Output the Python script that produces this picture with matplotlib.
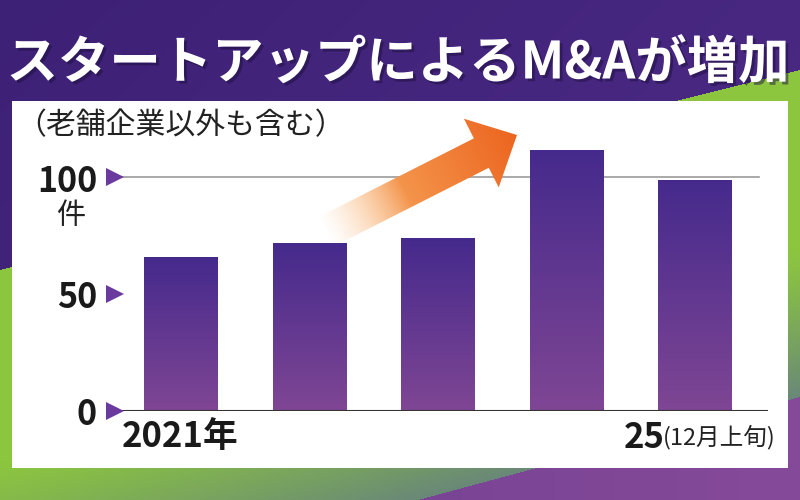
import numpy as np
import matplotlib
matplotlib.use('Agg')
import matplotlib.pyplot as plt
from matplotlib.patches import Polygon, Rectangle
from matplotlib.colors import to_rgb
import matplotlib.patheffects as pe
from matplotlib.transforms import blended_transform_factory

plt.rcParams['font.family'] = ['Noto Sans CJK JP', 'DejaVu Sans']

# ---- data ----
title = 'スタートアップによるM&Aが増加'
subtitle = '（老舗企業以外も含む）'
years = ['2021', '2022', '2023', '2024', '2025']
counts = [66, 72, 74, 112, 99]
ytick_values = [0, 50, 100]
ytick_labels = ['0', '50', '100']
unit_label = '件'
first_label = '2021年'
last_label_main = '25'
last_label_note = '(12月上旬)'

W, H = 800, 500
fig = plt.figure(figsize=(8, 5), dpi=100)


def lerp(c1, c2, t):
    c1 = np.array(to_rgb(c1)); c2 = np.array(to_rgb(c2))
    t = np.clip(t, 0, 1)[..., None]
    return c1 * (1 - t) + c2 * t


# ---- background (pixel coordinates) ----
bg = fig.add_axes([0, 0, 1, 1], zorder=0)
yy, xx = np.mgrid[0:H, 0:W] + 0.5
l1 = yy - (270 + (70 - 270) * xx / 800)
l2 = yy - (500 + (397 - 500) * (xx - 418) / 382)
purple_top = lerp('#3d2176', '#4f2c88', xx / 800 * 0.6 + yy / 500 * 0.4)
grey_t = 1 - np.clip(-l2 / 150, 0, 1)
green = lerp('#8cc63f', '#698878', grey_t ** 1.2)
purple_bot = lerp('#6c3d8d', '#864a9a', xx / 800)
img = np.where((l1 < 0)[..., None], purple_top,
               np.where((l2 < 0)[..., None], green, purple_bot))
bg.imshow(img, extent=(0, W, H, 0), interpolation='bilinear')
bg.add_patch(Rectangle((12, 100.5), 776, 367.5, facecolor='white', edgecolor='none'))
bg.set_aspect('auto')
bg.set_xlim(0, W); bg.set_ylim(H, 0)
bg.axis('off')

# ---- main chart ----
ax_left, ax_right = 122, 768
y0_px, ppu = 410.7, 2.332
ymax = 115
ax = fig.add_axes([ax_left / W, (H - y0_px) / H, (ax_right - ax_left) / W,
                   ymax * ppu / H], zorder=2)
ax.set_facecolor('none')
x = np.arange(len(years))
bw = 0.568
ax.set_xlim(-0.455, 4.568)
ax.set_ylim(0, ymax)

ax.axhline(100, xmin=0, xmax=(759 - ax_left) / (ax_right - ax_left),
           color='#9b9b9b', lw=1.2, zorder=1)
bars = ax.bar(x, counts, width=bw, color='none', edgecolor='none', zorder=2)
grad = np.linspace(0, 1, 256)[:, None]
grad_rgb = lerp('#452a8c', '#7f4694', grad[:, 0])[:, None, :]
for b in bars:
    x0 = b.get_x(); h = b.get_height()
    im = ax.imshow(grad_rgb, extent=(x0, x0 + b.get_width(), 0, h),
                   origin='upper', aspect='auto', zorder=2, interpolation='bilinear')
    im.set_clip_path(b)
ax.set_xlim(-0.455, 4.568)
ax.set_ylim(0, ymax)
ax.axhline(0, color='#333333', lw=1.5, zorder=3)

for s in ax.spines.values():
    s.set_visible(False)
ax.set_xticks([])
ax.set_yticks(ytick_values, ytick_labels, fontsize=24.5, fontweight='bold', color='#1a1a1a')
ax.tick_params(axis='y', length=0, pad=18)

trans = blended_transform_factory(ax.transAxes, ax.transData)
ax.plot([-0.0115] * len(ytick_values), ytick_values, marker='>', ms=13.5, mew=0,
        color='#6b3a9e', ls='none', transform=trans, clip_on=False, zorder=4)

# ---- texts ----
t = fig.text(398 / W, 1 - 63 / H, title, fontsize=37, fontweight='bold', color='white',
             ha='center', va='center', zorder=5)
t.set_path_effects([pe.withSimplePatchShadow(offset=(2, -2), shadow_rgbFace='#1e0f40', alpha=0.5)])
fig.text(16 / W, 1 - 126 / H, subtitle, fontsize=21.5, color='#222222', ha='left', va='center', zorder=5)
fig.text(71 / W, 1 - 216 / H, unit_label, fontsize=21, color='#222222', ha='center', va='center', zorder=5)
fig.text(ax_left / W, 1 - 437 / H, first_label, fontsize=25, fontweight='bold', color='#1a1a1a',
         ha='left', va='center', zorder=5)
note = fig.text(776 / W, 1 - 437 / H, last_label_note, fontsize=17, color='#222222',
                ha='right', va='center', zorder=5)
fig.canvas.draw()
nb = note.get_window_extent()
fig.text((nb.x0 + 1) / W, 1 - 437 / H, last_label_main, fontsize=25, fontweight='bold',
         color='#1a1a1a', ha='right', va='center', zorder=5)

# ---- decorative arrow ----
ov = fig.add_axes([0, 0, 1, 1], zorder=3)
ov.set_facecolor('none')
tip = np.array([517.0, 135.0])
u = np.array([0.892, -0.452]); u /= np.linalg.norm(u)
n = np.array([-u[1], u[0]])
if n[1] < 0:
    n = -n
base = tip - 40 * u
tail = base - 175 * u
sw, hw = 16.5, 38.5
pts = [tail + sw * n, base + sw * n, base + hw * n, tip, base - hw * n, base - sw * n, tail - sw * n]
poly = Polygon(pts, closed=True, facecolor='none', edgecolor='none', transform=ov.transData)
ov.add_patch(poly)
bx0, bx1, by0, by1 = 300, 540, 100, 270
gy, gx = np.mgrid[by0:by1, bx0:bx1] + 0.5
total = np.linalg.norm(tip - tail)
tt = ((gx - tail[0]) * u[0] + (gy - tail[1]) * u[1]) / total
rgb = lerp('#f7a55a', '#ec6520', (tt - 0.2) / 0.8)
alpha = np.clip(tt / 0.42, 0, 1) ** 1.3
rgba = np.dstack([rgb, alpha])
aim = ov.imshow(rgba, extent=(bx0, bx1, by1, by0), interpolation='bilinear')
aim.set_clip_path(poly)
ov.set_aspect('auto')
ov.set_xlim(0, W); ov.set_ylim(H, 0)
ov.axis('off')

fig.savefig('out.png', dpi=100)
